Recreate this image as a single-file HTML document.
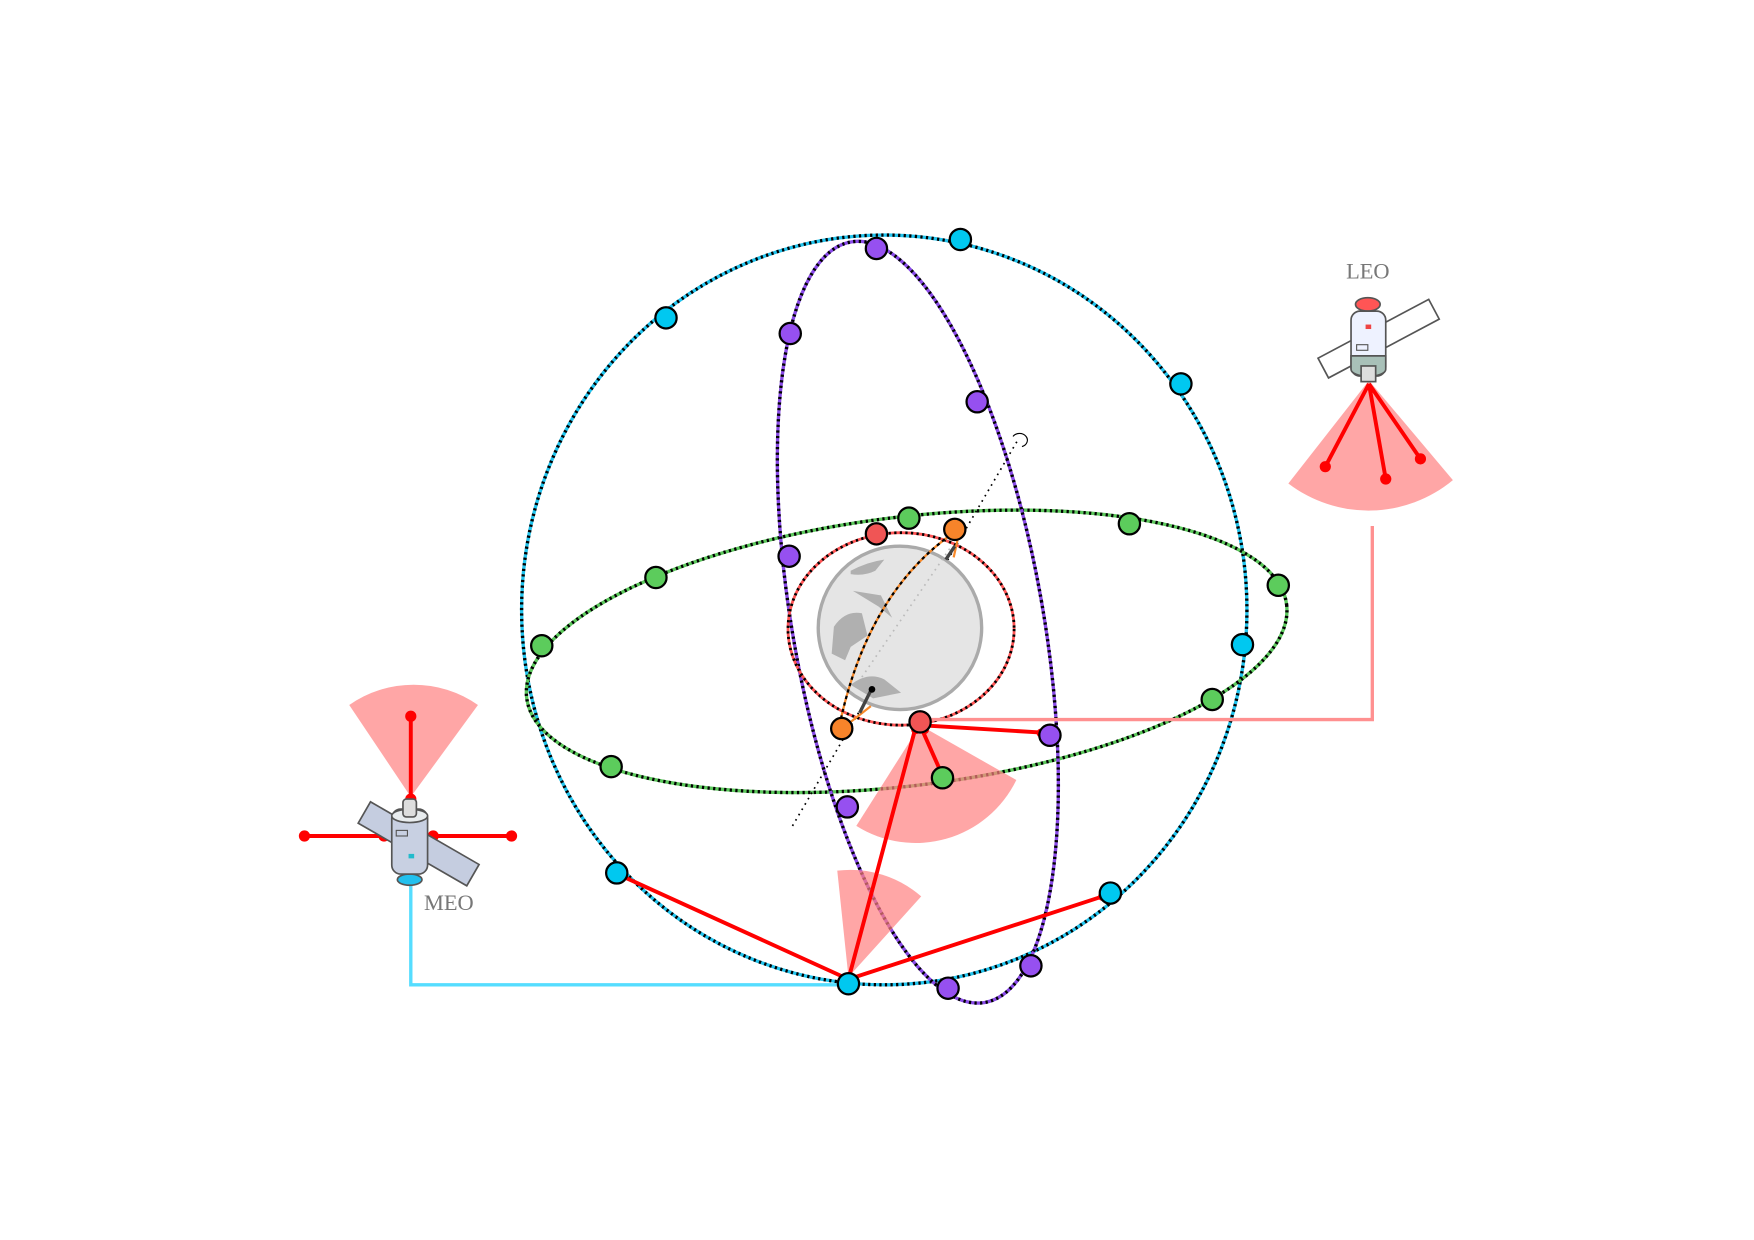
<!DOCTYPE html>
<html><head><meta charset="utf-8"><style>html,body{margin:0;padding:0;background:#fff}svg{display:block}</style></head>
<body>
<svg width="1754" height="1240" viewBox="0 0 1567 1108" preserveAspectRatio="none" xmlns="http://www.w3.org/2000/svg">
<!-- blue orbit -->
<ellipse cx="790" cy="545" rx="324" ry="335" fill="none" stroke="#22c4ee" stroke-width="3"/>
<ellipse cx="790" cy="545" rx="324" ry="335" fill="none" stroke="#000" stroke-width="3" stroke-dasharray="2 3"/>
<!-- green orbit -->
<ellipse cx="810" cy="582" rx="342" ry="120" transform="rotate(-7 810 582)" fill="none" stroke="#5cc85c" stroke-width="3"/>
<ellipse cx="810" cy="582" rx="342" ry="120" transform="rotate(-7 810 582)" fill="none" stroke="#000" stroke-width="3" stroke-dasharray="2 3"/>
<!-- purple orbit -->
<ellipse cx="820" cy="556" rx="112" ry="345" transform="rotate(-10 820 556)" fill="none" stroke="#8a4be8" stroke-width="3"/>
<ellipse cx="820" cy="556" rx="112" ry="345" transform="rotate(-10 820 556)" fill="none" stroke="#000" stroke-width="3" stroke-dasharray="2 3"/>
<!-- dotted axis -->
<line x1="708" y1="738" x2="910" y2="392" stroke="#000" stroke-width="1.5" stroke-dasharray="1.5 4"/>
<path d="M905 390 a7 6 0 1 1 8 9" fill="none" stroke="#000" stroke-width="1"/>
<!-- earth -->
<circle cx="804" cy="561" r="73" fill="#e5e5e5" stroke="#aaa" stroke-width="3"/>
<path d="M760 510 q15-8 30-10 l-8 10 q-10 5-22 3z M762 528 l25 4 10 20 -12-10z M745 560 q10-15 25-12 l5 20 -15 10 -5 12 -12-6z M760 612 q15-12 30-5 l15 12 -25 5z" fill="#b0b0b0"/>
<line x1="770" y1="605" x2="850" y2="488" stroke="#bbb" stroke-width="1.5" stroke-dasharray="1.5 4"/>
<!-- red orbit -->
<ellipse cx="805" cy="562" rx="101" ry="86" fill="none" stroke="#f55" stroke-width="2.5"/>
<ellipse cx="805" cy="562" rx="101" ry="86" fill="none" stroke="#000" stroke-width="2.5" stroke-dasharray="2 3"/>
<!-- orange arc -->
<path d="M750 648 Q775 530 852 476" fill="none" stroke="#f88a2a" stroke-width="2"/>
<path d="M750 648 Q775 530 852 476" fill="none" stroke="#000" stroke-width="2" stroke-dasharray="3 3"/>
<path d="M760 645 l18 -14 M856 480 l-4 18" stroke="#f88a2a" stroke-width="2"/>
<path d="M778 617 l-10 20 M845 500 l8-12" stroke="#444" stroke-width="3"/>
<circle cx="779" cy="616" r="3" fill="#000"/>
<!-- pink sectors -->
<g fill="#ff8080" fill-opacity="0.7">
<path d="M822 648 L908 697 A100 100 0 0 1 765 738 Z"/>
<path d="M758 873 L748 778 A96 96 0 0 1 823 801 Z"/>
<path d="M1223 340 L1298 429 A118 118 0 0 1 1151 432 Z"/>
<path d="M367 712 L312 630 A100 100 0 0 1 427 630 Z"/>
</g>
<!-- connectors -->
<polyline points="1226,470 1226,643 830,643" fill="none" stroke="#ff9090" stroke-width="3"/>
<polyline points="367,790 367,880 758,880" fill="none" stroke="#55ddff" stroke-width="3"/>
<g stroke="#f00" stroke-width="3.5" fill="none">
<path d="M758 875 L556 783 M758 875 L985 801 M758 875 L818 650 M822 648 L938 655 M822 648 L842 693"/>
<path d="M1223 343 L1184 417 M1223 343 L1238 428 M1223 343 L1269 410"/>
<path d="M367 640 L367 714 M272 747 L457 747"/>
</g>
<g fill="#f00">
<circle cx="1184" cy="417" r="5"/><circle cx="1238" cy="428" r="5"/><circle cx="1269" cy="410" r="5"/>
<circle cx="367" cy="640" r="5"/><circle cx="367" cy="714" r="5"/><circle cx="272" cy="747" r="5"/><circle cx="457" cy="747" r="5"/><circle cx="343" cy="747" r="5"/><circle cx="387" cy="747" r="5"/>
<circle cx="556" cy="783" r="4"/><circle cx="985" cy="801" r="4"/><circle cx="930" cy="655" r="4"/><circle cx="818" cy="652" r="4"/><circle cx="826" cy="652" r="4"/>
</g>
<!-- nodes -->
<g stroke="#000" stroke-width="2">
<g fill="#00c8f0">
<circle cx="858" cy="214" r="9.5"/><circle cx="595" cy="284" r="9.5"/><circle cx="1055" cy="343" r="9.5"/><circle cx="1110" cy="576" r="9.5"/><circle cx="551" cy="780" r="9.5"/><circle cx="992" cy="798" r="9.5"/><circle cx="758" cy="879" r="9.5"/>
</g>
<g fill="#9650f0">
<circle cx="783" cy="222" r="9.5"/><circle cx="706" cy="298" r="9.5"/><circle cx="873" cy="359" r="9.5"/><circle cx="705" cy="497" r="9.5"/><circle cx="938" cy="657" r="9.5"/><circle cx="757" cy="721" r="9.5"/><circle cx="921" cy="863" r="9.5"/><circle cx="847" cy="883" r="9.5"/>
</g>
<g fill="#5ccc5c">
<circle cx="812" cy="463" r="9.5"/><circle cx="1009" cy="468" r="9.5"/><circle cx="586" cy="516" r="9.5"/><circle cx="484" cy="577" r="9.5"/><circle cx="1142" cy="523" r="9.5"/><circle cx="1083" cy="625" r="9.5"/><circle cx="546" cy="685" r="9.5"/><circle cx="842" cy="695" r="9.5"/>
</g>
<g fill="#f05555"><circle cx="783" cy="477" r="9.5"/><circle cx="822" cy="645" r="9.5"/></g>
<g fill="#f7842a"><circle cx="853" cy="473" r="9.5"/><circle cx="752" cy="651" r="9.5"/></g>
</g>
<!-- LEO satellite -->
<g stroke="#555" stroke-width="1.5">
<rect x="1176" y="294" width="112" height="20" fill="#fff" transform="rotate(-28 1229 304)"/>
<ellipse cx="1222" cy="272" rx="11" ry="6" fill="#f55"/>
<rect x="1207" y="278" width="31" height="58" rx="8" fill="#eef2ff"/>
<path d="M1207 318 h31 v12 a15 6 0 0 1 -31 0z" fill="#a8c0b8"/>
<rect x="1216" y="327" width="13" height="14" fill="#ddd"/>
<rect x="1212" y="308" width="10" height="5" fill="none" stroke-width="1"/>
</g>
<rect x="1220" y="290" width="5" height="4" fill="#e44"/>
<text x="1222" y="249" font-family="Liberation Serif, serif" font-size="20" fill="#777" text-anchor="middle">LEO</text>
<!-- MEO satellite -->
<g stroke="#555" stroke-width="1.5">
<rect x="318" y="743" width="112" height="22" fill="#c5cde0" transform="rotate(30 374 754)"/>
<ellipse cx="366" cy="786" rx="11" ry="5" fill="#22c0ee"/>
<rect x="350" y="723" width="32" height="58" rx="8" fill="#c8d0e2"/>
<ellipse cx="366" cy="729" rx="16" ry="6" fill="#e8ecee"/>
<rect x="360" y="714" width="12" height="16" rx="3" fill="#ddd"/>
<rect x="354" y="742" width="10" height="5" fill="none" stroke-width="1"/>
</g>
<rect x="365" y="763" width="5" height="4" fill="#2bc"/>
<text x="401" y="813" font-family="Liberation Serif, serif" font-size="20" fill="#777" text-anchor="middle">MEO</text>
</svg>
</body></html>
